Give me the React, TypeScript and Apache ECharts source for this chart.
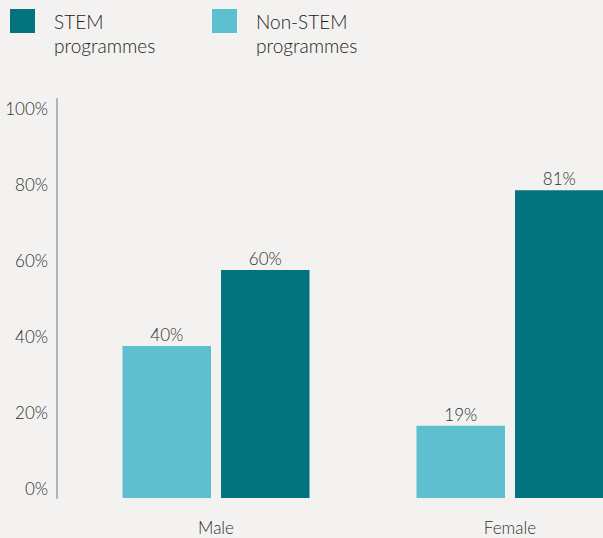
import React, { useEffect, useRef } from "react";
import * as echarts from "echarts";

const categories = ["Male", "Female"];
const nonStemValues = [40, 19];
const stemValues = [60, 81];
const yTicks = [0, 20, 40, 60, 80, 100];
const seriesNames = ["STEM\nprogrammes", "Non-STEM\nprogrammes"];

const DARK = "#03747d";
const LIGHT = "#5ebfce";
const TEXT = "#2f2f2f";
const FONT = "Lato, 'Open Sans', sans-serif";

export default function App() {
  const ref = useRef<HTMLDivElement>(null);
  useEffect(() => {
    if (!ref.current) return;
    const chart = echarts.init(ref.current, undefined, { renderer: "svg" });
    const legendText = {
      color: "#222222",
      fontFamily: FONT,
      fontSize: 19,
      fontWeight: 300,
      lineHeight: 24,
      padding: [0, 0, 0, 14],
    };
    const legendBase = {
      top: -15,
      padding: 0,
      itemWidth: 25,
      itemHeight: 24,
      icon: "rect",
      textStyle: legendText,
      selectedMode: false,
      formatter: (name: string) => "\n" + name,
    };
    const labelStyle = {
      show: true,
      position: "top",
      distance: 3,
      color: TEXT,
      fontSize: 17,
      fontWeight: 300,
      fontFamily: FONT,
      formatter: "{c}%",
    };
    chart.setOption({
      animation: false,
      backgroundColor: "#f3f2f0",
      textStyle: { fontFamily: FONT },
      legend: [
        { ...legendBase, left: 10, data: [seriesNames[0]] },
        { ...legendBase, left: 212, data: [seriesNames[1]] },
      ],
      grid: {
        left: 69,
        width: 588,
        top: 99,
        bottom: 40,
        containLabel: false,
        outerBoundsMode: "none",
      },
      xAxis: {
        type: "category",
        data: categories,
        axisLine: { show: false },
        axisTick: { show: false },
        axisLabel: {
          color: TEXT,
          fontSize: 17,
          fontWeight: 300,
          fontFamily: FONT,
          margin: 21,
        },
      },
      yAxis: {
        type: "value",
        min: 0,
        max: 105,
        interval: 20,
        offset: 12,
        axisLine: { show: true, lineStyle: { color: "#b3b3b3", width: 2 } },
        axisTick: { show: false },
        splitLine: { show: false },
        axisLabel: {
          color: TEXT,
          fontSize: 17,
          fontWeight: 300,
          fontFamily: FONT,
          margin: 9,
          verticalAlign: "bottom",
          lineHeight: 20,
          showMaxLabel: false,
          formatter: (v: number) => (yTicks.includes(v) ? v + "%" : ""),
        },
      },
      series: [
        {
          name: seriesNames[1],
          type: "bar",
          data: nonStemValues,
          barWidth: 88.5,
          barGap: "11.3%",
          itemStyle: { color: LIGHT },
          label: labelStyle,
        },
        {
          name: seriesNames[0],
          type: "bar",
          data: stemValues,
          barWidth: 88.5,
          barGap: "11.3%",
          itemStyle: { color: DARK },
          label: labelStyle,
        },
      ],
    });
    return () => chart.dispose();
  }, []);
  return (
    <div
      ref={ref}
      style={{ position: "fixed", left: 0, top: 0, width: 603, height: 538 }}
    />
  );
}
